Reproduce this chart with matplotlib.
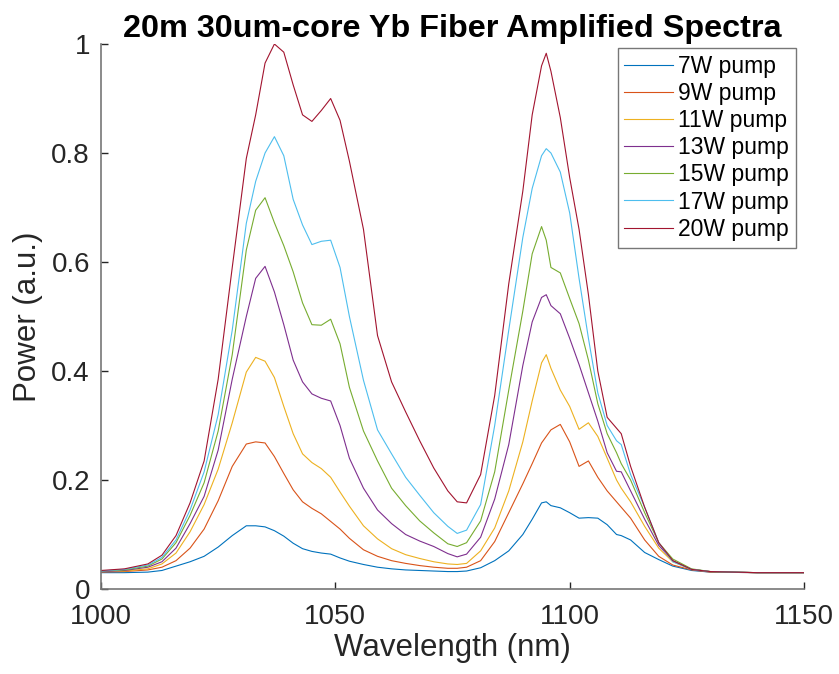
import matplotlib
matplotlib.use("Agg")
import matplotlib.pyplot as plt

plt.rcParams["font.family"] = ["Liberation Sans", "DejaVu Sans"]

wavelength = [1000, 1005, 1010, 1013, 1016, 1019, 1022, 1025, 1028, 1031,
              1033, 1035, 1037, 1039, 1041, 1043, 1045, 1047, 1049, 1051,
              1053, 1056, 1059, 1062, 1065, 1068, 1071, 1074, 1076, 1078,
              1081, 1084, 1087, 1090, 1092, 1094, 1095, 1096, 1098, 1100,
              1102, 1104, 1106, 1108, 1110, 1111, 1113, 1116, 1119, 1122,
              1126, 1130, 1140, 1150]

p7 = [0.030, 0.030, 0.031, 0.034, 0.042, 0.050, 0.060, 0.077, 0.098, 0.116,
      0.116, 0.114, 0.107, 0.097, 0.084, 0.074, 0.069, 0.066, 0.064, 0.057,
      0.051, 0.045, 0.040, 0.037, 0.035, 0.034, 0.033, 0.032, 0.032, 0.033,
      0.039, 0.052, 0.070, 0.100, 0.128, 0.158, 0.160, 0.153, 0.149, 0.140,
      0.130, 0.131, 0.130, 0.118, 0.100, 0.098, 0.090, 0.067, 0.054, 0.042,
      0.034, 0.031, 0.030, 0.030]

p9 = [0.031, 0.032, 0.035, 0.040, 0.052, 0.075, 0.110, 0.162, 0.225, 0.266,
      0.270, 0.268, 0.243, 0.212, 0.182, 0.160, 0.148, 0.138, 0.124, 0.110,
      0.093, 0.072, 0.060, 0.052, 0.047, 0.043, 0.040, 0.038, 0.038, 0.040,
      0.052, 0.087, 0.140, 0.193, 0.230, 0.268, 0.280, 0.292, 0.302, 0.270,
      0.225, 0.235, 0.205, 0.180, 0.160, 0.150, 0.130, 0.090, 0.060, 0.044,
      0.035, 0.031, 0.030, 0.030]

p11 = [0.032, 0.033, 0.037, 0.046, 0.066, 0.105, 0.155, 0.220, 0.305, 0.398,
       0.425, 0.418, 0.388, 0.335, 0.285, 0.248, 0.232, 0.221, 0.205, 0.178,
       0.152, 0.116, 0.092, 0.074, 0.063, 0.056, 0.050, 0.046, 0.045, 0.047,
       0.070, 0.112, 0.180, 0.270, 0.345, 0.415, 0.430, 0.405, 0.365, 0.335,
       0.293, 0.305, 0.280, 0.240, 0.200, 0.185, 0.160, 0.115, 0.075, 0.050,
       0.036, 0.032, 0.030, 0.030]

p13 = [0.032, 0.034, 0.040, 0.050, 0.075, 0.120, 0.170, 0.255, 0.385, 0.500,
       0.570, 0.592, 0.545, 0.485, 0.420, 0.380, 0.358, 0.350, 0.345, 0.300,
       0.240, 0.185, 0.145, 0.120, 0.100, 0.088, 0.078, 0.065, 0.059, 0.064,
       0.095, 0.165, 0.265, 0.410, 0.490, 0.535, 0.540, 0.520, 0.505, 0.460,
       0.412, 0.360, 0.308, 0.250, 0.216, 0.215, 0.180, 0.128, 0.080, 0.052,
       0.036, 0.032, 0.030, 0.030]

p15 = [0.033, 0.035, 0.042, 0.055, 0.085, 0.135, 0.195, 0.290, 0.430, 0.622,
       0.695, 0.718, 0.672, 0.630, 0.582, 0.525, 0.485, 0.484, 0.495, 0.450,
       0.370, 0.290, 0.235, 0.185, 0.153, 0.125, 0.103, 0.083, 0.078, 0.085,
       0.125, 0.215, 0.365, 0.510, 0.615, 0.665, 0.640, 0.590, 0.580, 0.533,
       0.487, 0.420, 0.340, 0.285, 0.250, 0.230, 0.200, 0.140, 0.085, 0.055,
       0.037, 0.032, 0.030, 0.030]

p17 = [0.033, 0.036, 0.044, 0.058, 0.090, 0.145, 0.215, 0.320, 0.475, 0.671,
       0.748, 0.800, 0.830, 0.795, 0.715, 0.668, 0.632, 0.638, 0.640, 0.590,
       0.500, 0.383, 0.292, 0.248, 0.205, 0.172, 0.140, 0.115, 0.102, 0.108,
       0.155, 0.300, 0.475, 0.645, 0.735, 0.795, 0.808, 0.800, 0.765, 0.690,
       0.570, 0.460, 0.360, 0.300, 0.272, 0.265, 0.210, 0.150, 0.085, 0.050,
       0.036, 0.032, 0.030, 0.030]

p20 = [0.034, 0.037, 0.046, 0.062, 0.098, 0.158, 0.235, 0.385, 0.590, 0.790,
       0.870, 0.965, 1.000, 0.985, 0.925, 0.870, 0.858, 0.878, 0.900, 0.860,
       0.785, 0.660, 0.465, 0.380, 0.325, 0.272, 0.222, 0.180, 0.160, 0.158,
       0.210, 0.355, 0.560, 0.730, 0.870, 0.960, 0.983, 0.950, 0.865, 0.755,
       0.660, 0.540, 0.400, 0.315, 0.295, 0.285, 0.225, 0.150, 0.085, 0.052,
       0.036, 0.032, 0.030, 0.030]

series = [p7, p9, p11, p13, p15, p17, p20]
labels = ["7W pump", "9W pump", "11W pump", "13W pump", "15W pump",
          "17W pump", "20W pump"]
colors = ["#0072BD", "#D95319", "#EDB120", "#7E2F8E", "#77AC30",
          "#4DBEEE", "#A2142F"]

fig = plt.figure(figsize=(8.39, 6.74), dpi=100)
ax = fig.add_axes([0.1204, 0.1261, 0.8379, 0.8086])

for vals, lab, c in zip(series, labels, colors):
    ax.plot(wavelength, vals, color=c, lw=0.8, label=lab)

ax.set_xlim(1000, 1150)
ax.set_ylim(0, 1)
ax.set_xticks([1000, 1050, 1100, 1150])
ax.set_yticks([0, 0.2, 0.4, 0.6, 0.8, 1])
ax.set_yticklabels(["0", "0.2", "0.4", "0.6", "0.8", "1"])
ax.tick_params(direction="in", length=5, width=1, colors="#262626",
               labelsize=20)
ax.tick_params(axis="x", pad=11)
ax.tick_params(axis="y", pad=8)
for s in ["top", "right"]:
    ax.spines[s].set_visible(False)
for s in ["left", "bottom"]:
    ax.spines[s].set_color("#777777")
    ax.spines[s].set_linewidth(1.2)

ax.set_xlabel("Wavelength (nm)", fontsize=22.5, color="#262626", labelpad=2)
ax.set_ylabel("Power (a.u.)", fontsize=22.5, color="#262626", labelpad=6)
ax.set_title("20m 30um-core Yb Fiber Amplified Spectra", fontsize=23.3,
             fontweight="bold", pad=5)

leg = ax.legend(loc="upper right", fontsize=16.5, frameon=True, fancybox=False,
                handlelength=2.1, handletextpad=0.25, labelspacing=0.18,
                borderaxespad=0, borderpad=0.3,
                bbox_to_anchor=(796 / 839, 1 - 48 / 674),
                bbox_transform=fig.transFigure)
leg.get_frame().set_edgecolor("#555555")
leg.get_frame().set_linewidth(1.0)

fig.savefig("out.png", dpi=100)
